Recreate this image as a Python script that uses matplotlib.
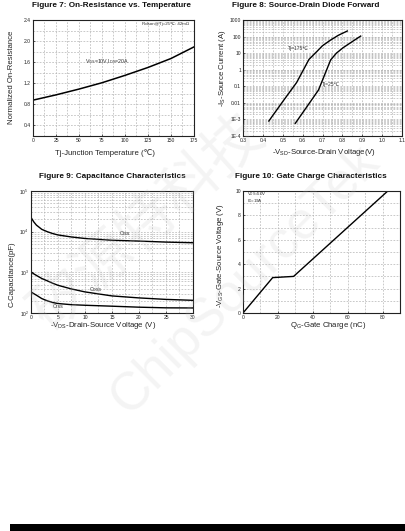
import numpy as np
import matplotlib
matplotlib.use("Agg")
import matplotlib.pyplot as plt
from matplotlib.patches import Rectangle
from matplotlib.ticker import LogLocator, NullFormatter, FixedLocator, MultipleLocator

plt.rcParams['font.family'] = ['Liberation Sans', 'DejaVu Sans', 'Noto Sans CJK SC']
plt.rcParams['mathtext.fontset'] = 'custom'
plt.rcParams['mathtext.rm'] = 'Liberation Sans'
plt.rcParams['mathtext.it'] = 'Liberation Sans'
plt.rcParams['mathtext.default'] = 'regular'

# ---------------- data ----------------
# Fig 7: normalized on-resistance vs temperature
temp_c = [0, 25, 50, 75, 100, 125, 150, 175]
rdson_norm = [0.88, 0.98, 1.09, 1.21, 1.35, 1.50, 1.67, 1.89]

# Fig 8: source-drain diode forward
vsd_175 = [0.43, 0.50, 0.57, 0.632, 0.67, 0.70, 0.741, 0.78, 0.825]
is_175 = [8e-4, 0.012, 0.17, 4.2, 12, 28, 62, 120, 217]
vsd_25 = [0.563, 0.62, 0.68, 0.741, 0.77, 0.803, 0.85, 0.892]
is_25 = [5.8e-4, 0.0055, 0.06, 3.9, 10, 21, 50, 107]

# Fig 9: capacitance vs Vds
vds = [0, 0.5, 1, 2, 3, 4, 5, 7.5, 10, 15, 20, 25, 30]
ciss = [22400, 17500, 14500, 11400, 10000, 9000, 8300, 7400, 6800, 6150, 5870, 5540, 5340]
coss = [1030, 920, 840, 705, 620, 540, 480, 390, 330, 263, 235, 216, 205]
crss = [330, 300, 274, 226, 200, 181, 171, 160, 155, 147, 139, 134, 133]

# Fig 10: gate charge
qg = [0, 17, 29, 83]
vgs = [0, 2.9, 3.0, 10]

# ---------------- figure ----------------
W, H = 406, 531
fig = plt.figure(figsize=(W / 100, H / 100), dpi=100)


def ax_at(l, t, r, b):
    return fig.add_axes([l / W, 1 - b / H, (r - l) / W, (b - t) / H])


def px(x, y):
    return x / W, 1 - y / H


GRID = dict(color='#b4b4b4', linestyle=(0, (2.5, 2)), linewidth=0.5)
TICKFS = 3.6
LABFS = 5.6
TITFS = 5.9


def style(ax):
    for s in ax.spines.values():
        s.set_linewidth(0.8)
        s.set_color('#222222')
    ax.tick_params(which='both', direction='in', length=1.5, width=0.5,
                   labelsize=TICKFS, pad=1.5, colors='#222222')
    ax.tick_params(which='minor', length=0)


def title(x, y, s):
    fig.text(*px(x, y), s, ha='center', va='baseline', fontsize=TITFS,
             fontweight='bold', color='#111111')


def xlabel(x, y, s):
    fig.text(*px(x, y), s, ha='center', va='center', fontsize=LABFS, color='#222222')


def ylabel(x, y, s):
    fig.text(*px(x, y), s, ha='center', va='center', fontsize=LABFS,
             rotation=90, color='#222222')


# ---- Figure 7 ----
ax7 = ax_at(33, 20, 194, 136)
ax7.plot(temp_c, rdson_norm, color='black', lw=1.1)
ax7.set_xlim(0, 175)
ax7.set_ylim(0.2, 2.4)
ax7.xaxis.set_major_locator(MultipleLocator(25))
ax7.xaxis.set_minor_locator(MultipleLocator(12.5))
ax7.set_yticks([0.4, 0.8, 1.2, 1.6, 2.0, 2.4])
ax7.yaxis.set_minor_locator(MultipleLocator(0.2))
ax7.grid(True, which='both', **GRID)
ax7.set_axisbelow(True)
style(ax7)
ax7.text(56, 1.62, r'V$_{GS}$=10V,I$_{DS}$=20A', fontsize=3.8, va='center', color='#333333')
ax7.text(170, 2.32, 'Rdson@Tj=25℃: 42mΩ', fontsize=3.2, ha='right', va='center',
         color='#333333')
title(112, 6.7, 'Figure 7: On-Resistance vs. Temperature')
xlabel(105, 152.7, 'Tj-Junction Temperature (℃)')
ylabel(12, 77, 'Normalized On-Resistance')

# ---- Figure 8 ----
ax8 = ax_at(243, 20, 402, 136)
ax8.semilogy(vsd_175, is_175, color='black', lw=1.0)
ax8.semilogy(vsd_25, is_25, color='black', lw=1.0)
ax8.set_xlim(0.3, 1.1)
ax8.set_ylim(1e-4, 1e3)
ax8.set_xticks([0.3, 0.4, 0.5, 0.6, 0.7, 0.8, 0.9, 1.0, 1.1])
ax8.set_xticklabels(['0.3', '0.4', '0.5', '0.6', '0.7', '0.8', '0.9', '1.0', '1.1'])
ax8.xaxis.set_minor_locator(MultipleLocator(0.05))
ax8.yaxis.set_major_locator(FixedLocator([1e-4, 1e-3, 1e-2, 1e-1, 1, 10, 100, 1000]))
ax8.set_yticklabels(['1E-4', '1E-3', '0.01', '0.1', '1', '10', '100', '1000'])
ax8.yaxis.set_minor_locator(LogLocator(base=10, subs=np.arange(2, 10), numticks=20))
ax8.yaxis.set_minor_formatter(NullFormatter())
ax8.grid(True, which='both', **GRID)
ax8.set_axisbelow(True)
style(ax8)
ax8.text(0.526, 18.6, 'Tj=175℃', fontsize=3.6, va='center', color='#333333')
ax8.text(0.697, 0.13, 'Tj=25℃', fontsize=3.6, va='center', color='#333333')
title(306, 6.7, 'Figure 8: Source-Drain Diode Forward')
xlabel(324, 152.7, r'-V$_{SD}$-Source-Drain Voltage(V)')
ylabel(223, 68, r'-I$_S$-Source Current (A)')

# ---- Figure 9 ----
ax9 = ax_at(31, 191, 193, 313)
ax9.semilogy(vds, ciss, color='black', lw=1.0)
ax9.semilogy(vds, coss, color='black', lw=1.0)
ax9.semilogy(vds, crss, color='black', lw=1.0)
ax9.set_xlim(0, 30)
ax9.set_ylim(1e2, 1e5)
ax9.xaxis.set_major_locator(MultipleLocator(5))
ax9.xaxis.set_minor_locator(MultipleLocator(2.5))
ax9.yaxis.set_major_locator(FixedLocator([1e2, 1e3, 1e4, 1e5]))
ax9.set_yticklabels([r'10$^2$', r'10$^3$', r'10$^4$', r'10$^5$'])
ax9.yaxis.set_minor_locator(LogLocator(base=10, subs=np.arange(2, 10), numticks=20))
ax9.yaxis.set_minor_formatter(NullFormatter())
ax9.grid(True, which='both', **GRID)
ax9.set_axisbelow(True)
style(ax9)
ax9.text(16.4, 9100, 'Ciss', fontsize=3.8, va='center', color='#333333')
ax9.text(10.8, 378, 'Coss', fontsize=3.8, va='center', color='#333333')
ax9.text(4.1, 141, 'Crss', fontsize=3.8, va='center', color='#333333')
title(112, 177.5, 'Figure 9: Capacitance Characteristics')
xlabel(103, 325.7, r'-V$_{DS}$-Drain-Source Voltage (V)')
ylabel(12, 274, 'C-Capacitance(pF)')

# ---- Figure 10 ----
ax10 = ax_at(243, 191, 400, 313)
ax10.plot(qg, vgs, color='black', lw=1.0)
ax10.set_xlim(0, 90)
ax10.set_ylim(0, 10)
ax10.set_xticks([0, 20, 40, 60, 80])
ax10.xaxis.set_minor_locator(MultipleLocator(10))
ax10.set_yticks([0, 2, 4, 6, 8, 10])
ax10.yaxis.set_minor_locator(MultipleLocator(1))
ax10.grid(True, which='both', **GRID)
ax10.set_axisbelow(True)
style(ax10)
ax10.text(2.5, 9.75, r'V$_{DS}$=50V', fontsize=3.2, va='center', color='#333333')
ax10.text(2.5, 9.2, r'I$_D$=19A', fontsize=3.2, va='center', color='#333333')
title(311, 178, 'Figure 10: Gate Charge Characteristics')
xlabel(328, 325.7, r'Q$_G$-Gate Charge (nC)')
ylabel(221, 256, r'-V$_{GS}$-Gate-Source Voltage (V)')

# ---- watermark ----
fig.text(*px(148, 222), '矽源特科技', fontsize=42, rotation=42, ha='center', va='center',
         color='#c0c0c0', alpha=0.17, family=['Noto Sans CJK SC'], zorder=10)
fig.text(*px(245, 280), 'ChipSourceTek', fontsize=38, rotation=45, ha='center', va='center',
         color='#c0c0c0', alpha=0.17, zorder=10)

# ---- bottom bar ----
fig.patches.append(Rectangle((10 / W, 0), 1 - 10 / W, 7 / H, transform=fig.transFigure,
                             facecolor='black', edgecolor='none', zorder=5))

fig.savefig('out.png', dpi=100)
